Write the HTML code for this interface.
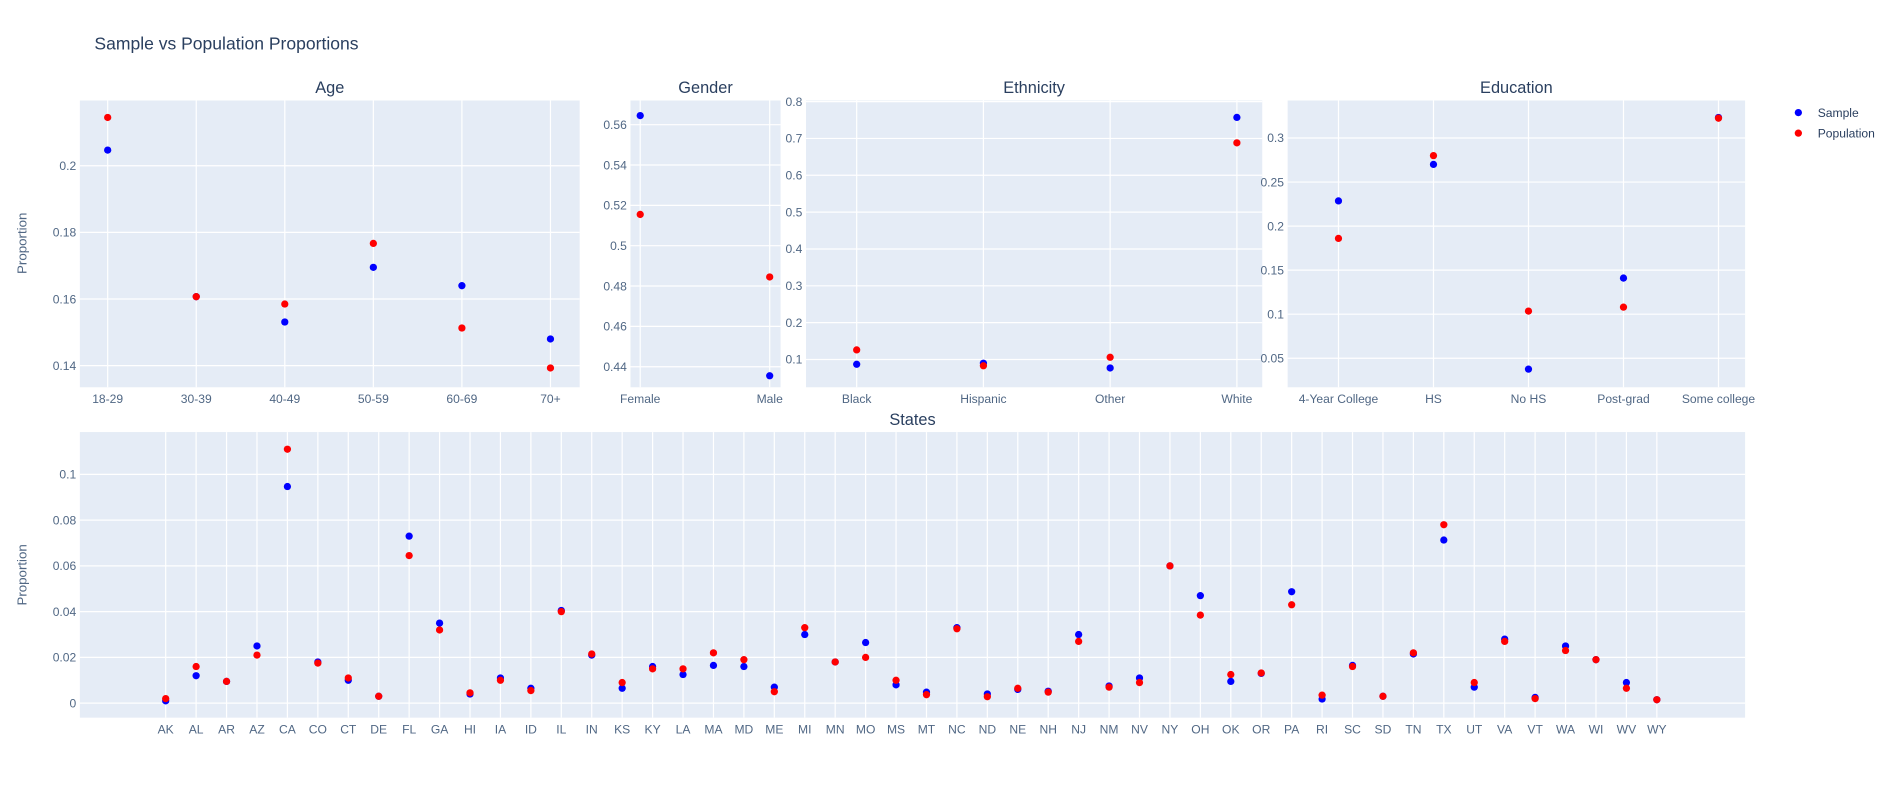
<!DOCTYPE html>
<html><head><meta charset="utf-8"><style>
html,body{margin:0;padding:0;background:#fff;}
svg{display:block;font-family:"Liberation Sans","Open Sans",sans-serif;}
</style></head><body>
<svg id="fig" width="1900" height="800" viewBox="0 0 1570 661" xmlns="http://www.w3.org/2000/svg">
<text x="78" y="41" font-size="14.5" fill="#2a3f5f">Sample vs Population Proportions</text>
<g>
<g><circle cx="1486" cy="93" r="3" fill="#0000ff"/><text x="1502" y="96.5" font-size="10" fill="#2a3f5f">Sample</text></g>
<g><circle cx="1486" cy="110" r="3" fill="#ff0000"/><text x="1502" y="113.5" font-size="10" fill="#2a3f5f">Population</text></g>
</g>
<text transform="translate(22,201) rotate(-90)" text-anchor="middle" font-size="11" fill="#506784">Proportion</text>
<text transform="translate(22,475) rotate(-90)" text-anchor="middle" font-size="11" fill="#506784">Proportion</text>
</svg>
<script>
// Age
const ageCats = ["18-29","30-39","40-49","50-59","60-69","70+"];
const ageSample = [0.2047,0.1607,0.1531,0.1695,0.164,0.148];
const agePop = [0.2145,0.1607,0.1585,0.1767,0.1513,0.1393];
const ageTicks = [0.14,0.16,0.18,0.2];
const ageTickLabels = ["0.14","0.16","0.18","0.2"];
// Gender
const genderCats = ["Female","Male"];
const genderSample = [0.5645,0.4355];
const genderPop = [0.5155,0.4845];
const genderTicks = [0.44,0.46,0.48,0.5,0.52,0.54,0.56];
const genderTickLabels = ["0.44","0.46","0.48","0.5","0.52","0.54","0.56"];
// Ethnicity
const ethCats = ["Black","Hispanic","Other","White"];
const ethSample = [0.087,0.09,0.077,0.757];
const ethPop = [0.126,0.083,0.106,0.688];
const ethTicks = [0.1,0.2,0.3,0.4,0.5,0.6,0.7,0.8];
const ethTickLabels = ["0.1","0.2","0.3","0.4","0.5","0.6","0.7","0.8"];
// Education
const eduCats = ["4-Year College","HS","No HS","Post-grad","Some college"];
const eduSample = [0.2286,0.27,0.0376,0.141,0.3233];
const eduPop = [0.186,0.28,0.1035,0.108,0.3225];
const eduTicks = [0.05,0.1,0.15,0.2,0.25,0.3];
const eduTickLabels = ["0.05","0.1","0.15","0.2","0.25","0.3"];
// States
const stateCats = ["AK","AL","AR","AZ","CA","CO","CT","DE","FL","GA","HI","IA","ID","IL","IN","KS","KY","LA","MA","MD","ME","MI","MN","MO","MS","MT","NC","ND","NE","NH","NJ","NM","NV","NY","OH","OK","OR","PA","RI","SC","SD","TN","TX","UT","VA","VT","WA","WI","WV","WY"];
const stateSample = [0.001,0.012,0.0095,0.025,0.0947,0.018,0.010,0.003,0.073,0.035,0.004,0.011,0.0065,0.0405,0.021,0.0065,0.016,0.0125,0.0165,0.016,0.007,0.030,0.018,0.0265,0.008,0.0048,0.033,0.004,0.006,0.0052,0.030,0.0075,0.011,0.060,0.047,0.0095,0.013,0.0487,0.0018,0.0165,0.003,0.0215,0.0713,0.007,0.028,0.0025,0.025,0.019,0.009,0.0015];
const statePop = [0.002,0.016,0.0095,0.021,0.111,0.0175,0.011,0.003,0.0645,0.032,0.0045,0.010,0.0055,0.040,0.0215,0.009,0.015,0.015,0.022,0.019,0.005,0.033,0.018,0.020,0.010,0.0037,0.0325,0.0028,0.0065,0.0048,0.027,0.007,0.009,0.060,0.0385,0.0125,0.0132,0.043,0.0035,0.016,0.003,0.022,0.078,0.009,0.027,0.002,0.023,0.019,0.0065,0.0015];
const stateTicks = [0,0.02,0.04,0.06,0.08,0.1];
const stateTickLabels = ["0","0.02","0.04","0.06","0.08","0.1"];

const NS="http://www.w3.org/2000/svg";
const fig=document.getElementById('fig');
function mk(tag,attrs,parent){const e=document.createElementNS(NS,tag);for(const k in attrs)e.setAttribute(k,attrs[k]);parent.appendChild(e);return e;}

function panel(name,title,box,xr,yr,cats,ticks,labels,sample,pop,rotate){
  const g=mk('g',{},fig);
  
  
  const [x0,y0,x1,y1]=box;
  const xs=i=>x0+(i-xr[0])/(xr[1]-xr[0])*(x1-x0);
  const ys=v=>y1-(v-yr[0])/(yr[1]-yr[0])*(y1-y0);
  const bg=mk('rect',{x:x0,y:y0,width:x1-x0,height:y1-y0,fill:'#e5ecf6'},g);
  
  
  cats.forEach((c,i)=>{
    mk('line',{x1:xs(i),x2:xs(i),y1:y0,y2:y1,stroke:'#fff','stroke-width':1},g);
    const t=mk('text',{x:xs(i),y:y1+13,'text-anchor':'middle','font-size':10,fill:'#506784'},g);
    t.textContent=c;
    
    
  });
  ticks.forEach((v,i)=>{
    mk('line',{x1:x0,x2:x1,y1:ys(v),y2:ys(v),stroke:'#fff','stroke-width':1},g);
    const t=mk('text',{x:x0-3,y:ys(v)+3.5,'text-anchor':'end','font-size':10,fill:'#506784'},g);
    t.textContent=labels[i];
    
    
  });
  const tt=mk('text',{x:(x0+x1)/2,y:y0-6,'text-anchor':'middle','font-size':13.5,fill:'#2a3f5f'},g);
  tt.textContent=title;
  
  
  sample.forEach((v,i)=>{
    const c=mk('circle',{cx:xs(i),cy:ys(v),r:3,fill:'#0000ff'},g);
    
    
  });
  pop.forEach((v,i)=>{
    const c=mk('circle',{cx:xs(i),cy:ys(v),r:3,fill:'#ff0000'},g);
    
    
  });
}
panel('age','Age',[66,83,479,320],[-0.314,5.33],[0.1335,0.2196],ageCats,ageTicks,ageTickLabels,ageSample,agePop);
panel('gender','Gender',[521,83,645,320],[-0.075,1.084],[0.4298,0.572],genderCats,genderTicks,genderTickLabels,genderSample,genderPop);
panel('ethnicity','Ethnicity',[666,83,1043,320],[-0.4,3.2],[0.0246,0.803],ethCats,ethTicks,ethTickLabels,ethSample,ethPop);
panel('education','Education',[1064,83,1442,320],[-0.535,4.28],[0.017,0.3426],eduCats,eduTicks,eduTickLabels,eduSample,eduPop);
panel('states','States',[66,357,1442,593],[-2.82,51.9],[-0.00635,0.1185],stateCats,stateTicks,stateTickLabels,stateSample,statePop);
</script>
</body></html>
